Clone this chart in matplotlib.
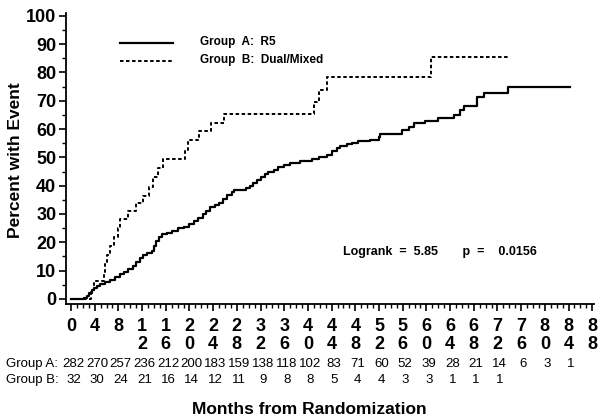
import matplotlib
matplotlib.use("Agg")
import matplotlib.pyplot as plt
import matplotlib.transforms as mtransforms
from matplotlib.ticker import MultipleLocator

plt.rcParams['font.family'] = ['Liberation Sans', 'DejaVu Sans']

# Group A (R5): step times (months) and cumulative percent with event
a_time = [0, 2.2, 2.7, 3.1, 3.5, 3.9, 4.3, 4.9, 5.7, 6.5, 7.4, 8.3, 9.0, 9.7,
          10.4, 11.0, 11.6, 12.2, 12.8, 13.6, 14.0, 14.4, 14.8, 15.3, 16.2,
          17.0, 18.0, 19.0, 20.0, 20.7, 21.4, 22.2, 22.8, 23.5, 24.3, 25.0,
          25.6, 26.3, 27.1, 27.6, 29.5, 30.2, 30.8, 31.4, 32.0, 32.7, 33.3,
          34.2, 35.0, 36.0, 37.0, 38.7, 40.7, 41.8, 43.2, 44.0, 44.9, 45.4,
          46.6, 47.4, 48.4, 50.5, 52.0, 52.2, 55.9, 57.0, 57.9, 59.8, 62.0,
          64.7, 65.6, 66.4, 68.5, 69.8, 73.8, 84.3]
a_pct = [0, 0.4, 1.0, 2.0, 3.2, 4.0, 4.6, 5.3, 6.1, 6.8, 7.9, 8.8, 9.5, 10.4,
         11.8, 13.2, 14.5, 15.5, 16.2, 16.8, 18.6, 20.5, 21.8, 22.9, 23.4,
         24.0, 24.9, 25.3, 26.3, 27.4, 28.6, 30.0, 31.2, 32.5, 33.2, 33.8,
         35.2, 36.6, 37.8, 38.5, 39.2, 40.0, 41.0, 42.0, 43.0, 44.0, 45.0,
         45.7, 46.5, 47.2, 47.9, 48.6, 49.5, 50.1, 50.7, 52.2, 53.4, 53.9,
         54.6, 55.0, 55.7, 56.2, 57.2, 58.1, 59.7, 60.9, 62.1, 63.0, 64.0,
         65.1, 66.8, 68.0, 71.2, 72.6, 75.0, 75.0]

# Group B (Dual/Mixed)
b_time = [0, 3.4, 3.8, 5.6, 5.8, 6.0, 6.5, 7.2, 7.9, 8.3, 9.6, 10.9, 12.2,
          13.1, 13.9, 14.7, 15.5, 19.3, 19.7, 21.6, 23.6, 25.8, 41.1, 41.9,
          43.2, 60.8, 73.8]
b_pct = [0, 3.1, 6.2, 9.4, 12.5, 15.6, 18.8, 21.9, 25.0, 28.1, 30.9, 33.8,
         36.3, 39.6, 43.0, 46.4, 49.5, 52.7, 56.0, 59.2, 62.2, 65.4, 69.5,
         73.8, 78.3, 85.3, 85.3]

x_ticks = [0, 4, 8, 12, 16, 20, 24, 28, 32, 36, 40, 44, 48, 52, 56, 60, 64,
           68, 72, 76, 80, 84, 88]
x_labels = ["0", "4", "8", "1\n2", "1\n6", "2\n0", "2\n4", "2\n8", "3\n2",
            "3\n6", "4\n0", "4\n4", "4\n8", "5\n2", "5\n6", "6\n0", "6\n4",
            "6\n8", "7\n2", "7\n6", "8\n0", "8\n4", "8\n8"]
risk_a = [282, 270, 257, 236, 212, 200, 183, 159, 138, 118, 102, 83, 71, 60,
          52, 39, 28, 21, 14, 6, 3, 1]
risk_b = [32, 30, 24, 21, 16, 14, 12, 11, 9, 8, 8, 5, 4, 4, 3, 3, 1, 1, 1]

W, H = 602, 420
fig = plt.figure(figsize=(W / 100, H / 100), dpi=100)
ax = fig.add_axes([66 / W, (H - 304) / H, (594 - 66) / W, (304 - 13) / H])

ax.step(a_time, a_pct, where='post', color='black', lw=1.6)
ax.step(b_time, b_pct, where='post', color='black', lw=1.4,
        linestyle=(0, (1.8, 1.3)))

ax.set_xlim(-0.85, 88.3)
ax.set_ylim(-1.8, 101)
ax.spines['top'].set_visible(False)
ax.spines['right'].set_visible(False)
ax.spines['left'].set_linewidth(1.3)
ax.spines['bottom'].set_linewidth(1.3)

ax.set_yticks(range(0, 101, 10))
ax.yaxis.set_minor_locator(MultipleLocator(5))
ax.set_xticks(x_ticks)
ax.set_xticklabels(x_labels, fontsize=13, fontweight='bold', linespacing=1.1)
ax.xaxis.set_minor_locator(MultipleLocator(1))
ax.tick_params(axis='y', labelsize=13, width=1.2, length=5, pad=2)
ax.tick_params(axis='x', width=1.2, length=5, pad=5)
ax.tick_params(which='minor', length=3, width=1)
for lab in ax.get_yticklabels():
    lab.set_fontweight('bold')

fig.text(16 / W, 1 - 160 / H, "Percent with Event", rotation=90,
         fontsize=12.5, fontweight='bold', ha='center', va='center')
fig.text(309 / W, 1 - 410 / H, "Months from Randomization",
         fontsize=12.5, fontweight='bold', ha='center', va='center')

# legend drawn by hand, like the original
ax.plot([8.3, 17.3], [90.5, 90.5], color='black', lw=1.6)
ax.plot([8.3, 17.3], [84.2, 84.2], color='black', lw=1.4,
        linestyle=(0, (1.8, 1.3)))
ax.text(21.8, 90.8, "Group  A:  R5", fontsize=8.5, fontweight='bold',
        va='center')
ax.text(21.8, 84.5, "Group  B:  Dual/Mixed", fontsize=8.5, fontweight='bold',
        va='center')

ax.text(45.9, 16.5, "Logrank  =  5.85       p  =    0.0156", fontsize=9,
        fontweight='bold', va='center')

# number at risk table
trans = mtransforms.blended_transform_factory(ax.transData, fig.transFigure)
y_a = 1 - 364 / H
y_b = 1 - 380 / H
fig.text(6 / W, y_a, "Group A:", fontsize=9.5, va='center')
fig.text(6 / W, y_b, "Group B:", fontsize=9.5, va='center')
for m, n in zip(x_ticks, risk_a):
    ax.text(m + 0.4, y_a, str(n), transform=trans, fontsize=9.5, ha='center',
            va='center')
for m, n in zip(x_ticks, risk_b):
    ax.text(m + 0.4, y_b, str(n), transform=trans, fontsize=9.5, ha='center',
            va='center')

fig.savefig("out.png", dpi=100)
